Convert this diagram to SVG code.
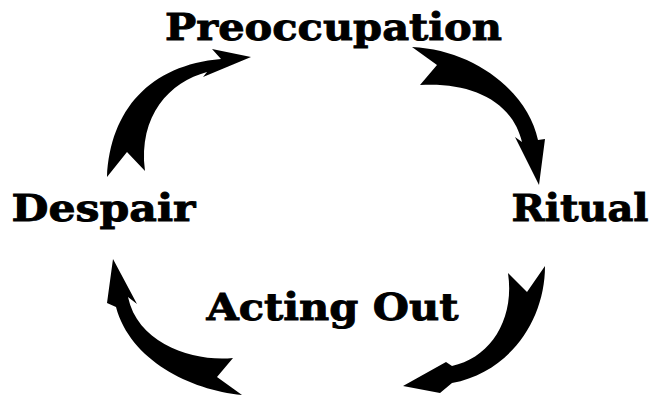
<svg xmlns="http://www.w3.org/2000/svg" width="655" height="396" viewBox="0 0 655 396">
<style>
.lbl{font-family:"DejaVu Serif","Liberation Serif",serif;font-weight:bold;font-size:38px;fill:#000;stroke:#000;stroke-width:0.9}
.arr{fill:#000;stroke:none}
</style>
<rect width="655" height="396" fill="#fff"/>
<g id="preoccupation"><text class="lbl" x="165" y="40" textLength="337" lengthAdjust="spacingAndGlyphs">Preoccupation</text></g>
<g id="ritual"><text class="lbl" x="511.5" y="221" textLength="137" lengthAdjust="spacingAndGlyphs">Ritual</text></g>
<g id="acting-out"><text class="lbl" x="206.5" y="320" textLength="252" lengthAdjust="spacingAndGlyphs">Acting Out</text></g>
<g id="despair"><text class="lbl" x="11.5" y="221" textLength="184" lengthAdjust="spacingAndGlyphs">Despair</text></g>
<g id="connectors">
<path class="arr" d="M107,177 C110,110 150,65 221,59 L212,49 L251,57 L203,77 L207,72 C170,82 138,115 145,171 L127,152 Z"/>
<path class="arr" d="M412,47 C475,50 528,92 538,140 L545,139 L539,185 L515,137 L522,142 C512,100 470,82 420,85 L437,65 Z"/>
<path class="arr" d="M545,266 C545,320 510,372 452,383 L440,393 L403,386 L446,362 L452,366 C490,358 515,320 508,273 L527,292 Z"/>
<path class="arr" d="M242,395 C190,390 130,360 116,307 L107,303 L113,259 L137,304 L128,297 C138,345 195,362 233,358 L217,377 Z"/>
</g>
</svg>
